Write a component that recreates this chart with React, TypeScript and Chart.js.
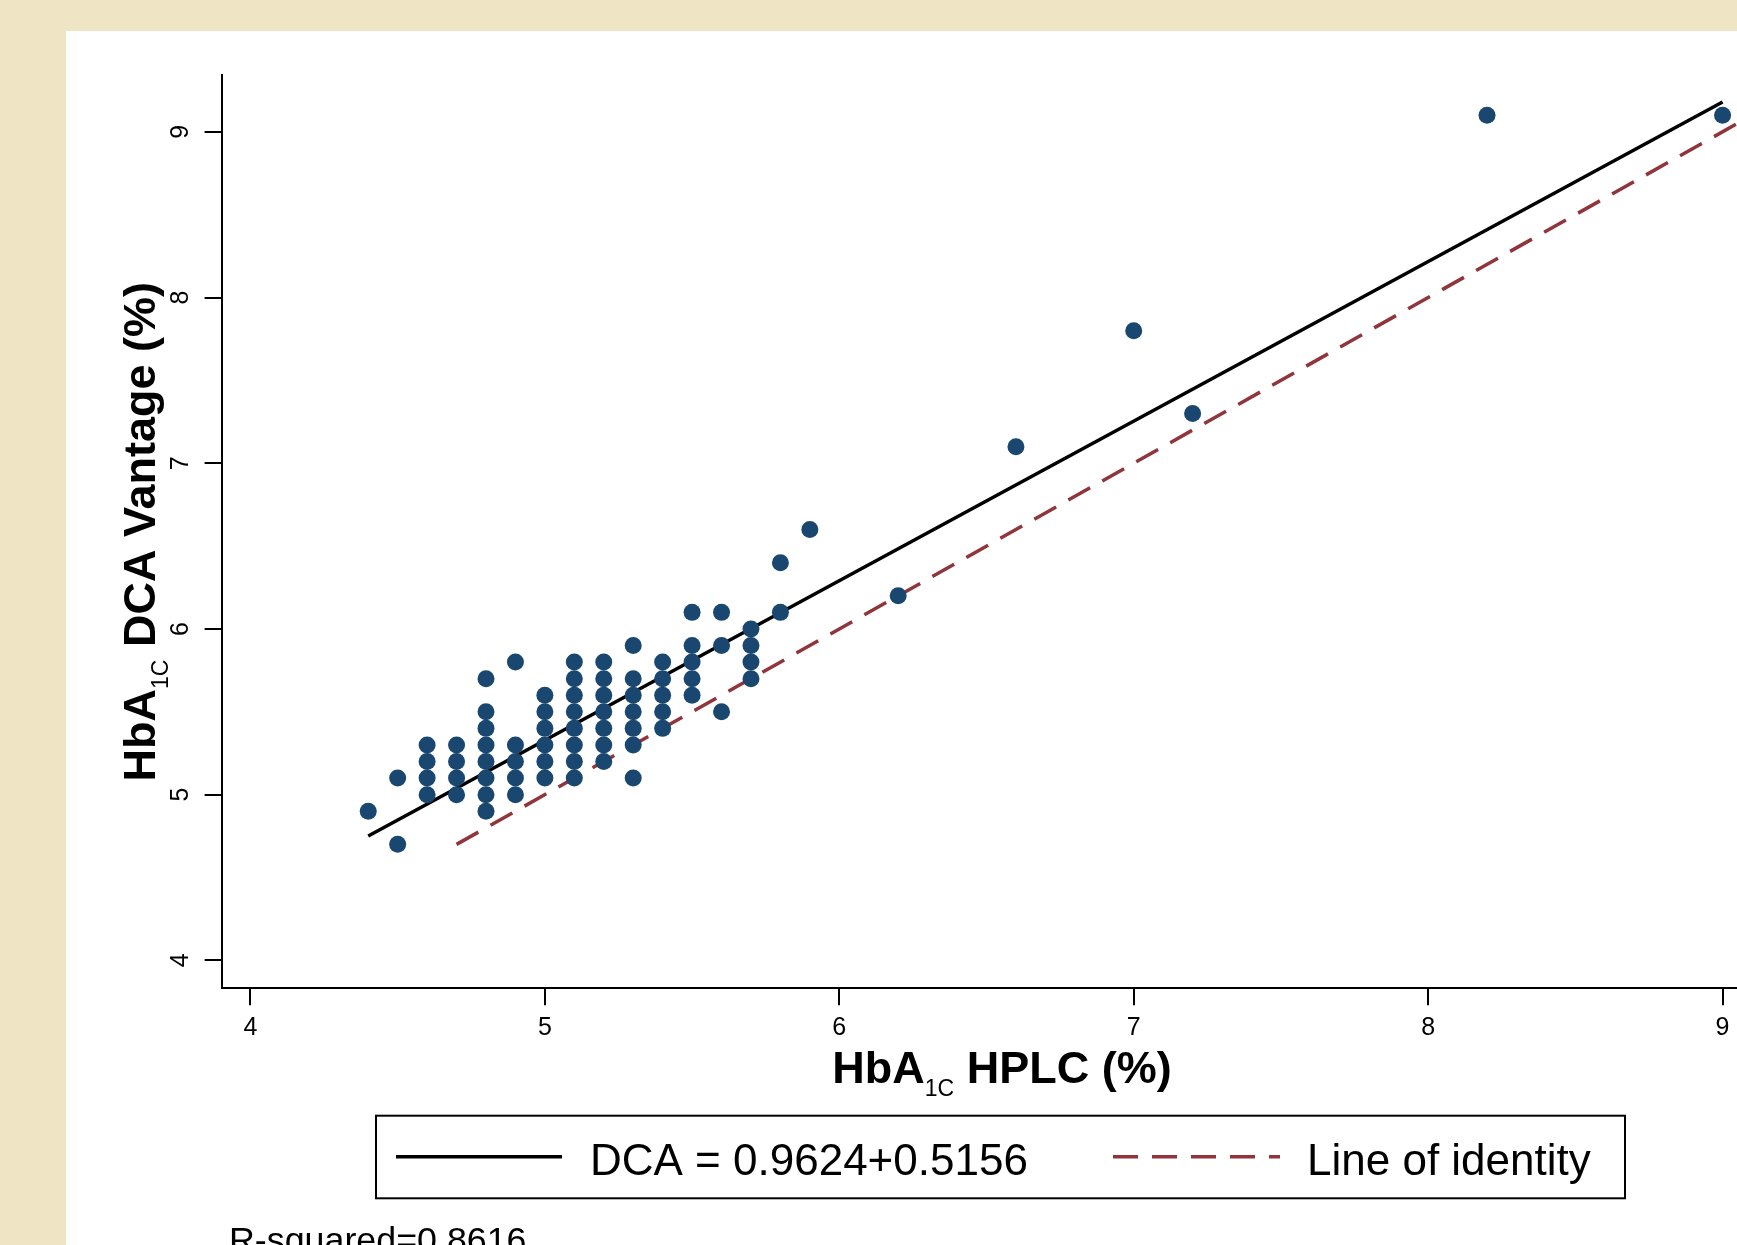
import React, { useEffect, useRef } from 'react';
import { Chart, registerables } from 'chart.js';

Chart.register(...registerables);

// ---- data ----
const hplc = [
  4.4,
  4.5, 4.5,
  4.6, 4.6, 4.6, 4.6,
  4.7, 4.7, 4.7, 4.7,
  4.8, 4.8, 4.8, 4.8, 4.8, 4.8, 4.8, 4.8,
  4.9, 4.9, 4.9, 4.9, 4.9,
  5.0, 5.0, 5.0, 5.0, 5.0, 5.0,
  5.1, 5.1, 5.1, 5.1, 5.1, 5.1, 5.1, 5.1,
  5.2, 5.2, 5.2, 5.2, 5.2, 5.2, 5.2,
  5.3, 5.3, 5.3, 5.3, 5.3, 5.3, 5.3,
  5.4, 5.4, 5.4, 5.4, 5.4,
  5.5, 5.5, 5.5, 5.5, 5.5,
  5.6, 5.6, 5.6,
  5.7, 5.7, 5.7, 5.7,
  5.8, 5.8,
  5.9,
  6.2,
  6.6,
  7.0,
  7.2,
  8.2,
  9.0,
];
const dca = [
  4.9,
  5.1, 4.7,
  5.3, 5.2, 5.1, 5.0,
  5.3, 5.2, 5.1, 5.0,
  5.7, 5.5, 5.4, 5.3, 5.2, 5.1, 5.0, 4.9,
  5.8, 5.3, 5.2, 5.1, 5.0,
  5.6, 5.5, 5.4, 5.3, 5.2, 5.1,
  5.8, 5.7, 5.6, 5.5, 5.4, 5.3, 5.2, 5.1,
  5.8, 5.7, 5.6, 5.5, 5.4, 5.3, 5.2,
  5.9, 5.7, 5.6, 5.5, 5.4, 5.3, 5.1,
  5.8, 5.7, 5.6, 5.5, 5.4,
  6.1, 5.9, 5.8, 5.7, 5.6,
  6.1, 5.9, 5.5,
  6.0, 5.9, 5.8, 5.7,
  6.1, 6.4,
  6.6,
  6.2,
  7.1,
  7.8,
  7.3,
  9.1,
  9.1,
];
const fitX = [4.4, 9.0];
const fitY = [4.75, 9.18];
const identityX = [4.7, 9.05];
const identityY = [4.7, 9.05];
const xTicks = [4, 5, 6, 7, 8, 9];
const yTicks = [4, 5, 6, 7, 8, 9];
const xRange = [3.902, 9.049];
const yRange = [3.832, 9.341];
const legendLabels = ['DCA = 0.9624+0.5156', 'Line of identity'];
const xTitleParts = ['HbA', '1C', ' HPLC (%)'];
const yTitleParts = ['HbA', '1C', ' DCA Vantage (%)'];
const noteText = 'R-squared=0.8616';

const FONT = "'Liberation Sans', Arial, Helvetica, sans-serif";
const NAVY = '#1A476F';
const MAROON = '#90353B';

type Part = { text: string; font: string; dy: number };

function titleParts(p: string[]): Part[] {
  return [
    { text: p[0], font: `bold 45px ${FONT}`, dy: 0 },
    { text: p[1], font: `23px ${FONT}`, dy: 13 },
    { text: p[2], font: `bold 45px ${FONT}`, dy: 0 },
  ];
}

function drawRich(ctx: CanvasRenderingContext2D, parts: Part[], x: number, y: number, angle: number) {
  ctx.save();
  ctx.translate(x, y);
  ctx.rotate(angle);
  ctx.textBaseline = 'alphabetic';
  ctx.textAlign = 'left';
  ctx.fillStyle = '#000';
  const widths = parts.map((p) => {
    ctx.font = p.font;
    return ctx.measureText(p.text).width;
  });
  const total = widths.reduce((a, b) => a + b, 0);
  let cx = -total / 2;
  parts.forEach((p, i) => {
    ctx.font = p.font;
    ctx.fillText(p.text, cx, p.dy);
    cx += widths[i];
  });
  ctx.restore();
}

const decorPlugin = {
  id: 'decor',
  beforeDraw(chart: any) {
    const ctx: CanvasRenderingContext2D = chart.ctx;
    ctx.save();
    ctx.fillStyle = '#EFE5C5';
    ctx.fillRect(0, 0, chart.width, chart.height);
    ctx.fillStyle = '#FFFFFF';
    ctx.fillRect(66, 31, chart.width - 66, chart.height - 31);
    ctx.restore();
  },
  afterDraw(chart: any) {
    const ctx: CanvasRenderingContext2D = chart.ctx;
    const area = chart.chartArea;
    // axis titles
    drawRich(ctx, titleParts(xTitleParts), 1002, 1082.7, 0);
    drawRich(ctx, titleParts(yTitleParts), 155, (area.top + area.bottom) / 2, -Math.PI / 2);

    // legend
    const ds = chart.data.datasets;
    ctx.save();
    ctx.strokeStyle = '#000';
    ctx.lineWidth = 2;
    ctx.strokeRect(376, 1115.7, 1249, 82.6);
    const ly = 1156.7;
    const items = [
      { x0: 396, x1: 562, tx: 590, d: ds[1] },
      { x0: 1113, x1: 1280, tx: 1307, d: ds[2] },
    ];
    items.forEach((it, i) => {
      ctx.beginPath();
      ctx.strokeStyle = it.d.borderColor;
      ctx.lineWidth = it.d.borderWidth;
      ctx.setLineDash(it.d.borderDash || []);
      ctx.moveTo(it.x0, ly);
      ctx.lineTo(it.x1, ly);
      ctx.stroke();
      ctx.setLineDash([]);
      ctx.fillStyle = '#000';
      ctx.font = `44px ${FONT}`;
      ctx.textBaseline = 'alphabetic';
      ctx.textAlign = 'left';
      ctx.fillText(legendLabels[i], it.tx, 1175);
    });
    // note
    ctx.font = `35.8px ${FONT}`;
    ctx.fillText(noteText, 229, 1252);
    ctx.restore();
  },
};

export default function App() {
  const ref = useRef<HTMLCanvasElement | null>(null);
  useEffect(() => {
    if (!ref.current) return;
    const chart = new Chart(ref.current, {
      type: 'scatter',
      data: {
        datasets: [
          {
            type: 'scatter',
            label: 'HbA1C',
            data: hplc.map((x, i) => ({ x, y: dca[i] })),
            backgroundColor: NAVY,
            borderWidth: 0,
            pointRadius: 8.5,
            pointHoverRadius: 8.5,
          },
          {
            type: 'line',
            label: legendLabels[0],
            data: fitX.map((x, i) => ({ x, y: fitY[i] })),
            borderColor: '#000000',
            borderWidth: 3.5,
            pointRadius: 0,
            fill: false,
          },
          {
            type: 'line',
            label: legendLabels[1],
            data: identityX.map((x, i) => ({ x, y: identityY[i] })),
            borderColor: MAROON,
            borderWidth: 3.5,
            borderDash: [25, 14],
            pointRadius: 0,
            fill: false,
          },
        ] as any,
      },
      options: {
        responsive: false,
        maintainAspectRatio: false,
        animation: false,
        devicePixelRatio: 1,
        layout: { autoPadding: false, padding: { top: 75.3, left: 0, right: 0, bottom: 0 } },
        plugins: {
          legend: { display: false },
          tooltip: { enabled: false },
        },
        scales: {
          x: {
            type: 'linear',
            min: xRange[0],
            max: xRange[1],
            afterBuildTicks: (s: any) => {
              s.ticks = xTicks.map((v) => ({ value: v }));
            },
            afterFit: (s: any) => {
              s.height = 256.8;
              s.paddingLeft = 0;
              s.paddingRight = 0;
            },
            border: { display: true, color: '#000', width: 2 },
            grid: {
              display: true,
              drawOnChartArea: false,
              drawTicks: true,
              tickLength: 17,
              tickWidth: 2,
              tickColor: '#000',
              color: '#000',
              lineWidth: 2,
            },
            ticks: {
              color: '#000',
              font: { family: FONT, size: 25 },
              padding: 8,
              maxRotation: 0,
              minRotation: 0,
              callback: (v: any) => String(v),
            },
          },
          y: {
            type: 'linear',
            min: yRange[0],
            max: yRange[1],
            afterBuildTicks: (s: any) => {
              s.ticks = yTicks.map((v) => ({ value: v }));
            },
            afterFit: (s: any) => {
              s.width = 221.6;
              s.paddingTop = 0;
              s.paddingBottom = 0;
            },
            border: { display: true, color: '#000', width: 2 },
            grid: {
              display: true,
              drawOnChartArea: false,
              drawTicks: true,
              tickLength: 17,
              tickWidth: 2,
              tickColor: '#000',
              color: '#000',
              lineWidth: 2,
            },
            ticks: {
              color: '#000',
              font: { family: FONT, size: 25 },
              padding: 17,
              minRotation: 90,
              maxRotation: 90,
              crossAlign: 'center',
              callback: (v: any) => String(v),
            },
          },
        },
      } as any,
      plugins: [decorPlugin],
    });
    return () => chart.destroy();
  }, []);

  return (
    <div style={{ position: 'absolute', left: 0, top: 0, width: 1737, height: 1245, overflow: 'hidden' }}>
      <canvas ref={ref} width={1737} height={1245} style={{ display: 'block' }} />
    </div>
  );
}
